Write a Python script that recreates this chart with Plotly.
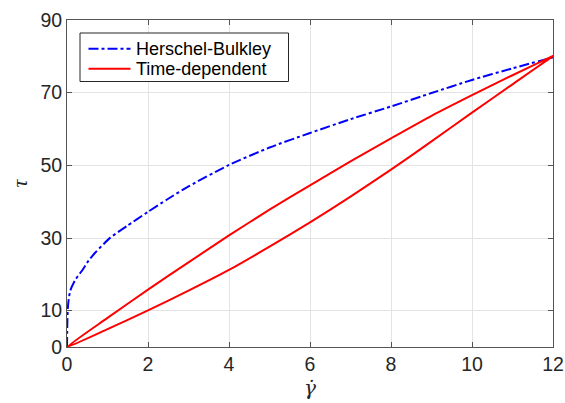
import plotly.graph_objects as go

# Herschel-Bulkley flow curve
hb_rate = [0, 0.005, 0.01, 0.02, 0.04, 0.08, 0.2, 0.37, 0.53, 0.7, 1.07, 1.48, 2.0, 2.47,
           3.0, 4.0, 5.0, 6.0, 7.0, 8.0, 9.0, 10.0, 11.0, 12.0]
hb_stress = [0, 4.5, 7.5, 10.5, 13.0, 15.5, 18.4, 21.0, 23.7, 26.0, 30.1, 33.3, 37.2, 40.6,
             44.2, 50.1, 54.9, 58.9, 62.7, 66.2, 69.9, 73.5, 76.7, 79.7]

# Time-dependent hysteresis loop: ramp-up branch then ramp-down branch
up_rate = [0, 1, 2, 3, 4, 5, 6, 7, 8, 9, 10, 11, 12, 12.25]
up_stress = [0, 4.9, 10.1, 15.5, 21.2, 27.6, 34.3, 41.4, 48.8, 56.6, 64.5, 72.3, 80.0, 81.5]
down_rate = [12.25, 12, 11, 10, 9, 8, 7, 6, 5, 4, 3, 2, 1, 0]
down_stress = [81.5, 80.1, 74.8, 69.3, 63.6, 57.4, 51.1, 44.5, 37.8, 30.7, 23.3, 15.8, 8.0, 0]

x_ticks = [0, 2, 4, 6, 8, 10, 12]
y_ticks = [0, 10, 30, 50, 70, 90]

series_names = ["Herschel-Bulkley", "Time-dependent"]
series_colors = ["#0000ff", "#ff0000"]
series_dash = ["10px,3px,3px,3px", "solid"]

fig = go.Figure()
fig.add_trace(go.Scatter(
    x=hb_rate, y=hb_stress, mode="lines", name=series_names[0],
    line=dict(color=series_colors[0], width=2, dash=series_dash[0],
              shape="spline", smoothing=0.6),
))
fig.add_trace(go.Scatter(
    x=up_rate + down_rate, y=up_stress + down_stress, mode="lines", name=series_names[1],
    line=dict(color=series_colors[1], width=2, dash=series_dash[1],
              shape="spline", smoothing=0.6),
))

axis_common = dict(
    showline=True, linecolor="#555555", linewidth=1, mirror="ticks",
    ticks="inside", ticklen=5, tickcolor="#555555", tickwidth=1,
    showgrid=True, gridcolor="#e3e3e3", gridwidth=1, zeroline=False,
    tickfont=dict(family="Liberation Sans", size=19.5, color="#262626"),
)

# Boxed legend in the upper-left corner of the axes
W, H = 565, 403
ML, MR, MT, MB = 67, 12, 20, 56
pw, ph = W - ML - MR, H - MT - MB


def px(xp):
    return (xp - ML) / pw


def py(yp):
    return 1 - (yp - MT) / ph


shapes = [dict(type="rect", xref="paper", yref="paper",
               x0=px(80), x1=px(288.5), y0=py(81.5), y1=py(33),
               line=dict(color="#262626", width=1), fillcolor="white", layer="above")]
annotations = []
row_y = [48.7, 68.7]
for name, color, dash, ry in zip(series_names, series_colors, series_dash, row_y):
    shapes.append(dict(type="line", xref="paper", yref="paper",
                       x0=px(88.5), x1=px(130.5), y0=py(ry), y1=py(ry),
                       line=dict(color=color, width=2, dash=dash), layer="above"))
    annotations.append(dict(xref="paper", yref="paper", x=px(134), y=py(ry + 0.5),
                            xanchor="left", yanchor="middle", showarrow=False,
                            text=name, font=dict(family="Liberation Sans", size=18, color="#000000")))

fig.update_layout(
    width=W, height=H,
    margin=dict(l=ML, r=MR, t=MT, b=MB),
    paper_bgcolor="white", plot_bgcolor="white",
    showlegend=False,
    shapes=shapes,
    annotations=annotations,
    xaxis=dict(
        range=[0, 12], tickvals=x_ticks, ticktext=[str(v) for v in x_ticks],
        automargin=False,
        title=dict(text="<i>γ\u0307</i>", font=dict(family="DejaVu Serif", size=20, color="#262626"),
                   standoff=6),
        **axis_common,
    ),
    yaxis=dict(
        range=[0, 90], tickvals=y_ticks, ticktext=[str(v) for v in y_ticks],
        automargin=False,
        title=dict(text="<i>τ</i>", font=dict(family="Liberation Serif", size=22, color="#262626"),
                   standoff=6),
        **axis_common,
    ),
)

fig.write_html("out.html")
